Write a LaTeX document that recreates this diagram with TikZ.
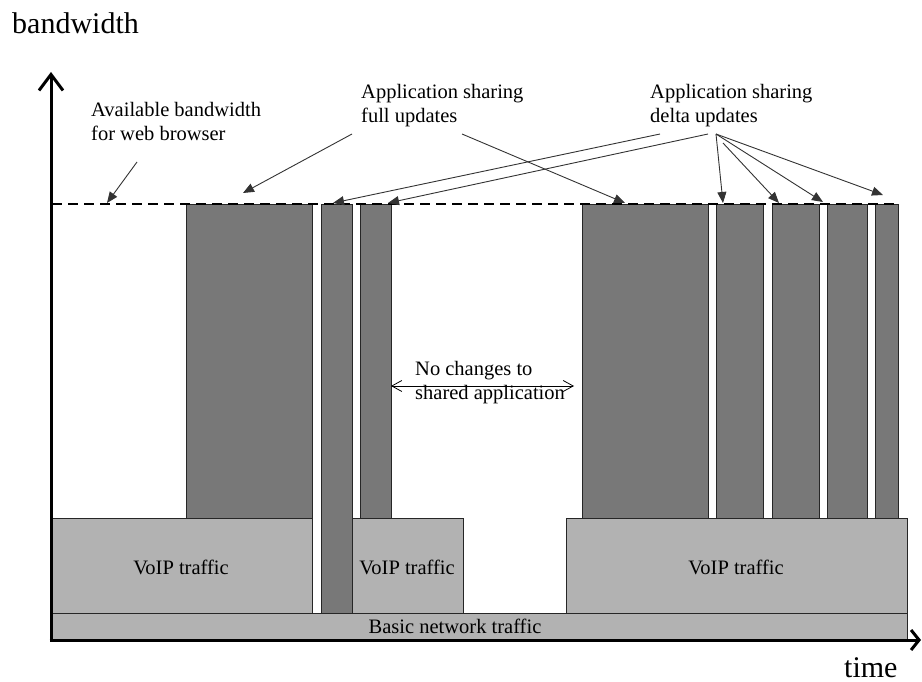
\documentclass[tikz,border=0pt]{standalone}
\usepackage{fontspec}
\setmainfont{Liberation Serif}
\usetikzlibrary{arrows.meta}
\begin{document}
\begin{tikzpicture}[x=1pt,y=-1pt,
  darkbar/.style={fill=black!53, draw=black!85, line width=0.8pt},
  lightbar/.style={fill=black!30, draw=black!85, line width=1pt},
  lbl/.style={font=\fontsize{20.5}{24}\selectfont, inner sep=0pt, align=left, anchor=north west},
  boxlbl/.style={font=\fontsize{20.5}{24}\selectfont, inner sep=0pt},
  axislbl/.style={font=\fontsize{30}{34}\selectfont, inner sep=0pt, anchor=base west},
  pointer/.style={draw=black!80, line width=0.9pt, -{Triangle[length=11pt,width=9pt]}},
  axis/.style={line width=3pt},
  limit/.style={line width=1.8pt, dash pattern=on 10pt off 6pt}
]
\useasboundingbox (0,0) rectangle (922,682);

% application sharing bursts
\draw[darkbar] (186,204) rectangle (312,518);
\draw[darkbar] (321,204) rectangle (352,613);
\draw[darkbar] (360,204) rectangle (391,518);
\draw[darkbar] (582,204) rectangle (708,518);
\draw[darkbar] (716,204) rectangle (763,518);
\draw[darkbar] (772,204) rectangle (819,518);
\draw[darkbar] (827,204) rectangle (867,518);
\draw[darkbar] (875,204) rectangle (898,518);

% VoIP and basic traffic layers
\draw[lightbar] (51,518) rectangle (312,613);
\draw[lightbar] (352,518) rectangle (463,613);
\draw[lightbar] (566,518) rectangle (907,613);
\draw[lightbar] (51,613) rectangle (907,640);
\node[boxlbl] (voipa) at (181,567) {VoIP traffic};
\node[boxlbl] (voipb) at (407,567) {VoIP traffic};
\node[boxlbl] (voipc) at (736,567) {VoIP traffic};
\node[boxlbl] (basic) at (455,626) {Basic network traffic};

% bandwidth limit
\draw[limit] (52,204) -- (896,204);

% axes
\coordinate (origin) at (51,640);
\coordinate (ytop) at (51,72);
\coordinate (xend) at (921,640);
\draw[axis, -{Straight Barb[length=16pt,width=24pt]}] (51,641.5) -- (ytop);
\draw[axis, -{Straight Barb[length=8pt,width=20pt]}] (49.5,640) -- (xend);
\node[axislbl] (ylabel) at (12,34) {bandwidth};
\node[axislbl] (xlabel) at (844,677) {time};

% annotations
\node[lbl] (avail) at (91,102) {Available bandwidth\\for web browser};
\node[lbl] (full) at (361,84) {Application sharing\\full updates};
\node[lbl] (delta) at (650,84) {Application sharing\\delta updates};
\node[lbl] (nochange) at (415,361) {No changes to\\shared application};

\coordinate (availS) at (137,162);
\coordinate (availT) at (107,203);
\draw[pointer] (availS) -- (availT);

\coordinate (fullSa) at (352,134);
\coordinate (fullSb) at (462,134);
\draw[pointer] (fullSa) -- (243,193);
\draw[pointer] (fullSb) -- (625,203);

\coordinate (deltaSa) at (660,134);
\coordinate (deltaSb) at (708,134);
\coordinate (deltaSc) at (716,134);
\coordinate (deltaSd) at (723,143);
\draw[pointer] (deltaSa) -- (333,203);
\draw[pointer] (deltaSb) -- (388,203);
\draw[pointer] (deltaSc) -- (723,203);
\draw[pointer] (deltaSd) -- (779,203);
\draw[pointer] (deltaSc) -- (823,202);
\draw[pointer] (deltaSc) -- (883,195);

% idle interval
\coordinate (idleL) at (391,386);
\coordinate (idleR) at (574,386);
\draw[line width=0.8pt, {Straight Barb[length=10pt,width=11pt]}-{Straight Barb[length=10pt,width=11pt]}] (idleL) -- (idleR);
\end{tikzpicture}
\end{document}
